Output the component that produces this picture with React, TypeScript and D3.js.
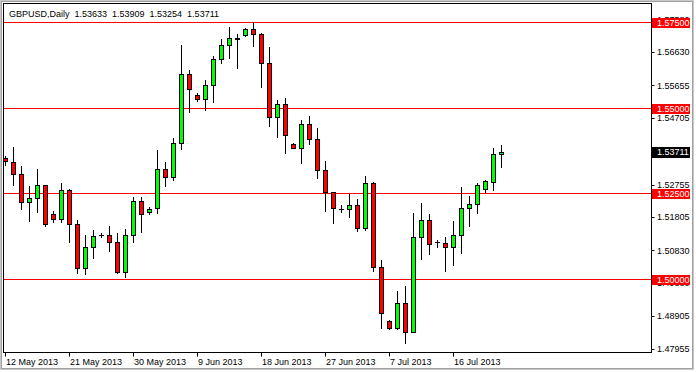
import React from "react";
import * as d3 from "d3";

const title = "GBPUSD,Daily  1.53633  1.53909  1.53254  1.53711";

const openP = [1.53530,1.53422,1.53053,1.52234,1.52351,1.52731,1.51883,1.51736,1.52585,1.51590,
1.50303,1.50917,1.51277,1.51268,1.51063,1.50203,1.51268,1.52272,1.51941,1.52058,
1.53199,1.52983,1.53960,1.55979,1.55364,1.55247,1.55657,1.56418,1.56827,1.57032,
1.57120,1.57295,1.57149,1.56300,1.54721,1.55101,1.53931,1.53831,1.54516,1.54077,
1.53170,1.52526,1.52052,1.52046,1.52146,1.51473,1.52790,1.50350,1.48752,1.48547,
1.49296,1.48430,1.51227,1.51707,1.51072,1.51058,1.50917,1.51268,1.52058,1.52178,
1.52614,1.52819,1.53633];
const highP = [1.53588,1.53843,1.53296,1.52711,1.53208,1.52740,1.51979,1.52807,1.52623,1.51716,
1.51277,1.51423,1.51344,1.51540,1.51327,1.51461,1.52380,1.52380,1.52087,1.53764,
1.53413,1.54106,1.56836,1.56104,1.55423,1.55812,1.56514,1.57003,1.57371,1.57158,
1.57324,1.57518,1.57178,1.56786,1.55227,1.55276,1.53977,1.54642,1.54759,1.54399,
1.53442,1.52526,1.52146,1.52476,1.52330,1.53012,1.52828,1.50546,1.48790,1.49639,
1.49785,1.51929,1.52222,1.51891,1.51131,1.51219,1.51687,1.52681,1.52433,1.52798,
1.52877,1.53814,1.53909];
const lowP = [1.53325,1.52740,1.52038,1.51695,1.51959,1.51549,1.51649,1.51649,1.51081,1.50156,
1.50127,1.50613,1.51210,1.50818,1.50156,1.50057,1.51081,1.51374,1.51891,1.51929,
1.52711,1.52886,1.53784,1.54867,1.55197,1.54934,1.55177,1.56318,1.56447,1.56154,
1.57099,1.56807,1.55616,1.54466,1.54135,1.53667,1.53814,1.53392,1.53931,1.52936,
1.51988,1.51637,1.51959,1.51812,1.51394,1.51423,1.50233,1.48547,1.48527,1.48527,
1.48109,1.48430,1.50584,1.50721,1.50935,1.50238,1.50399,1.50759,1.51555,1.51935,
1.52544,1.52594,1.53254];
const closeP = [1.53442,1.53053,1.52234,1.52351,1.52731,1.51599,1.51736,1.52585,1.51590,1.50303,
1.50917,1.51239,1.51270,1.51063,1.50203,1.51268,1.52272,1.51900,1.52038,1.53199,
1.52983,1.53960,1.55979,1.55540,1.55247,1.55657,1.56418,1.56827,1.57032,1.57055,
1.57295,1.57149,1.56300,1.54721,1.55101,1.54194,1.53837,1.54516,1.54077,1.53170,
1.52526,1.52076,1.52052,1.52146,1.51473,1.52790,1.50350,1.48986,1.48547,1.49296,
1.48430,1.51227,1.51707,1.51005,1.51072,1.50917,1.51268,1.52058,1.52178,1.52740,
1.52851,1.53638,1.53711];

const levels = [1.575, 1.55, 1.525, 1.5];
const priceTicks = [1.5758, 1.5663, 1.55655, 1.54705, 1.5373, 1.52755, 1.51805, 1.5083, 1.4988, 1.48905, 1.47955];
const dateLabels = ["12 May 2013","21 May 2013","30 May 2013","9 Jun 2013","18 Jun 2013","27 Jun 2013","7 Jul 2013","16 Jul 2013"];
const dateIdx = [0, 8, 16, 24, 32, 40, 48, 56];
const lastPrice = 1.53711;

const FONT = "'Liberation Sans', Arial, sans-serif";

export default function App() {
  const L = 3.5, T = 3.5, R = 651.5, B = 352.5;
  const x = d3.scaleLinear().domain([0, 62]).range([5, 501]);
  const y = d3.scaleLinear().domain([1.5, 1.575]).range([278.7, 22.3]);
  const crisp = (v: number) => Math.round(v) + 0.5;

  const candles = openP.map((o, i) => {
    const c = closeP[i];
    const cx = x(i);
    const wx = cx + 0.5;
    const yo = y(o), yc = y(c);
    const yh = y(highP[i]), yl = y(lowP[i]);
    const top = Math.min(yo, yc), bot = Math.max(yo, yc);
    const doji = bot - top < 0.6;
    const fill = c >= o ? "#00ff00" : "#ff0000";
    return (
      <g key={i}>
        <line x1={wx} x2={wx} y1={Math.round(yh)} y2={Math.round(yl) + 1} stroke="#000" strokeWidth={1} />
        {doji ? (
          <line x1={cx - 2} x2={cx + 3} y1={crisp(top)} y2={crisp(top)} stroke="#000" strokeWidth={1} />
        ) : (
          <rect x={cx - 1.5} y={crisp(top)} width={4} height={Math.max(1, Math.round(bot) - Math.round(top))} fill={fill} stroke="#000" strokeWidth={1} />
        )}
      </g>
    );
  });

  return (
    <svg width={696} height={372} style={{ position: "absolute", left: 0, top: 0, display: "block" }}>
      <rect x={0} y={0} width={696} height={372} fill="#fff" />
      <rect x={0.5} y={0.5} width={693} height={369} fill="none" stroke="#c8c8c8" strokeWidth={1} />
      <rect x={1.5} y={1.5} width={691} height={367} fill="none" stroke="#a0a0a0" strokeWidth={1} />
      <defs>
        <clipPath id="plotClip">
          <rect x={4} y={4} width={647} height={348} />
        </clipPath>
      </defs>
      <g clipPath="url(#plotClip)">
        {levels.map((lv) => (
          <line key={lv} x1={L} x2={R} y1={crisp(y(lv))} y2={crisp(y(lv))} stroke="#ff0000" strokeWidth={1} />
        ))}
        {candles}
      </g>
      <rect x={L} y={T} width={R - L} height={B - T} fill="none" stroke="#000" strokeWidth={1} />
      <text x={9} y={16.5} fontFamily={FONT} fontSize={9} fill="#000" style={{ whiteSpace: "pre" }}>{title}</text>
      {priceTicks.map((p) => (
        <g key={p}>
          <line x1={R} x2={R + 3} y1={crisp(y(p))} y2={crisp(y(p))} stroke="#000" />
          <text x={657} y={y(p) + 3.3} fontFamily={FONT} fontSize={9} fill="#000">{p.toFixed(5)}</text>
        </g>
      ))}
      {levels.map((lv) => (
        <g key={"lb" + lv}>
          <rect x={652} y={Math.round(y(lv)) - 4} width={38} height={10} fill="#ff0000" />
          <text x={657} y={y(lv) + 3.8} fontFamily={FONT} fontSize={9} fill="#fff">{lv.toFixed(5)}</text>
        </g>
      ))}
      <rect x={652} y={Math.round(y(lastPrice)) - 5} width={38} height={11} fill="#000" />
      <text x={657} y={y(lastPrice) + 3.5} fontFamily={FONT} fontSize={9} fill="#fff">{lastPrice.toFixed(5)}</text>
      {dateIdx.map((di, k) => (
        <g key={di}>
          <line x1={crisp(x(di))} x2={crisp(x(di))} y1={B} y2={B + 4} stroke="#000" />
          <text x={x(di) + 1} y={365} fontFamily={FONT} fontSize={9} fill="#000">{dateLabels[k]}</text>
        </g>
      ))}
    </svg>
  );
}
